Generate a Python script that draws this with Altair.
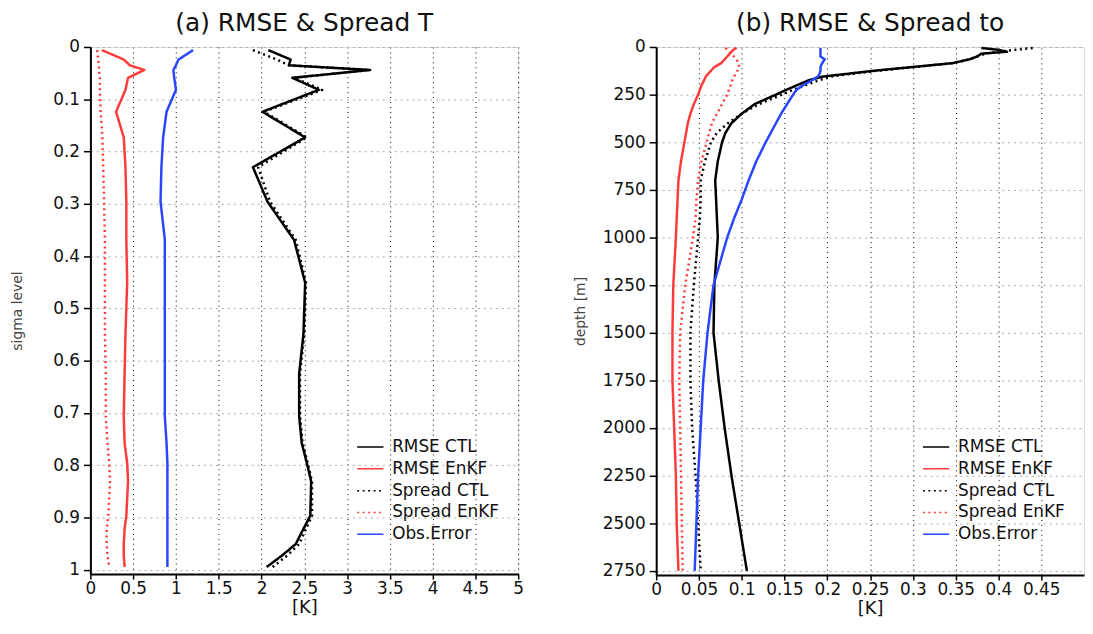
import altair as alt
import pandas as pd

FONT = "DejaVu Sans"

SERIES = ["RMSE CTL", "RMSE EnKF", "Spread CTL", "Spread EnKF", "Obs.Error"]
COLORS = ["#000000", "#ff3c3c", "#000000", "#ff3c3c", "#2846ff"]
DASHES = [[1, 0], [1, 0], [2, 3.5], [2, 3.5], [1, 0]]

# ---- panel (a): sigma levels ----
SIGMA = [0.006, 0.024, 0.035, 0.044, 0.059, 0.082, 0.124, 0.173, 0.23, 0.296, 0.369,
         0.451, 0.549, 0.625, 0.707, 0.758, 0.796, 0.831, 0.897, 0.922, 0.951, 0.973, 0.995]
A_RMSE_CTL = [2.08, 2.34, 2.32, 3.27, 2.36, 2.67, 2.01, 2.51, 1.90, 2.07, 2.38,
              2.51, 2.49, 2.44, 2.44, 2.47, 2.53, 2.58, 2.57, 2.49, 2.40, 2.24, 2.06]
A_RMSE_ENKF = [0.135, 0.39, 0.46, 0.63, 0.44, 0.41, 0.30, 0.39, 0.41, 0.42, 0.42,
               0.43, 0.41, 0.40, 0.39, 0.40, 0.43, 0.44, 0.42, 0.40, 0.39, 0.39, 0.40]
A_SPREAD_CTL = [1.90, 2.18, 2.32, 3.25, 2.38, 2.71, 2.03, 2.53, 1.96, 2.10, 2.40,
                2.52, 2.50, 2.45, 2.45, 2.48, 2.54, 2.59, 2.59, 2.52, 2.44, 2.30, 2.13]
A_SPREAD_ENKF = [0.08, 0.09, 0.10, 0.10, 0.11, 0.11, 0.12, 0.14, 0.15, 0.16, 0.17,
                 0.17, 0.17, 0.18, 0.18, 0.20, 0.22, 0.23, 0.21, 0.19, 0.19, 0.20, 0.22]
A_OBS_ERR = [1.20, 1.03, 1.00, 0.97, 0.98, 1.00, 0.89, 0.85, 0.83, 0.82, 0.87,
             0.87, 0.87, 0.87, 0.87, 0.89, 0.90, 0.90, 0.90, 0.90, 0.90, 0.90, 0.90]

# ---- panel (b): depth [m] ----
DEPTH = [5, 15, 25, 35, 50, 65, 85, 105, 125, 140, 155, 175, 200, 225, 250, 300,
         350, 400, 450, 500, 600, 700, 800, 900, 1000, 1250, 1500, 1750, 2000, 2250, 2500, 2750]
B_RMSE_CTL = [0.38, 0.40, 0.41, 0.38, 0.375, 0.366, 0.346, 0.30, 0.254, 0.225, 0.195, 0.178,
              0.165, 0.152, 0.14, 0.115, 0.10, 0.088, 0.081, 0.077, 0.072, 0.069, 0.070, 0.071,
              0.072, 0.068, 0.067, 0.073, 0.080, 0.088, 0.097, 0.106]
B_RMSE_ENKF = [0.094, 0.090, 0.088, 0.086, 0.083, 0.080, 0.076, 0.068, 0.064, 0.061, 0.058, 0.056,
               0.053, 0.051, 0.049, 0.044, 0.040, 0.037, 0.035, 0.033, 0.029, 0.026, 0.025, 0.024,
               0.023, 0.020, 0.019, 0.019, 0.021, 0.023, 0.024, 0.026]
B_SPREAD_CTL = [0.44, 0.42, 0.40, 0.385, 0.375, 0.366, 0.346, 0.302, 0.258, 0.23, 0.205, 0.19,
                0.175, 0.16, 0.147, 0.12, 0.10, 0.084, 0.071, 0.064, 0.057, 0.052, 0.052, 0.051,
                0.049, 0.044, 0.040, 0.040, 0.042, 0.046, 0.049, 0.052]
B_SPREAD_ENKF = [0.081, 0.083, 0.085, 0.088, 0.091, 0.094, 0.096, 0.097, 0.095, 0.093, 0.091, 0.089,
                 0.087, 0.085, 0.083, 0.077, 0.071, 0.065, 0.062, 0.059, 0.053, 0.049, 0.047, 0.046,
                 0.043, 0.034, 0.028, 0.027, 0.028, 0.029, 0.030, 0.031]
B_OBS_ERR = [0.192, 0.192, 0.192, 0.192, 0.192, 0.197, 0.194, 0.192, 0.192, 0.191, 0.189, 0.182,
             0.172, 0.164, 0.160, 0.153, 0.146, 0.140, 0.134, 0.128, 0.117, 0.108, 0.100, 0.091,
             0.083, 0.067, 0.060, 0.055, 0.052, 0.049, 0.047, 0.045]

A_X_TICKS = [0, 0.5, 1, 1.5, 2, 2.5, 3, 3.5, 4, 4.5, 5]
A_Y_TICKS = [0, 0.1, 0.2, 0.3, 0.4, 0.5, 0.6, 0.7, 0.8, 0.9, 1]
B_X_TICKS = [0, 0.05, 0.1, 0.15, 0.2, 0.25, 0.3, 0.35, 0.4, 0.45]
B_Y_TICKS = [0, 250, 500, 750, 1000, 1250, 1500, 1750, 2000, 2250, 2500, 2750]


def long_table(levels, cols):
    rows = []
    for name, vals in zip(SERIES, cols):
        for lv, v in zip(levels, vals):
            rows.append({"level": lv, "value": v, "series": name})
    return pd.DataFrame(rows)


def panel(df, title, xdom, xticks, xfmt, ydom, yticks, yfmt, ytitle, ytitlepad, w, h):
    legend = alt.Legend(title=None, orient="none", legendX=268, legendY=389,
                        symbolType="stroke", symbolSize=700, symbolStrokeWidth=1.5,
                        labelFontSize=17, labelFont=FONT, labelColor="#111",
                        rowPadding=-6, labelOffset=8, padding=0)
    return alt.Chart(df, title=alt.Title(title, fontSize=25, font=FONT, fontWeight="normal",
                                         frame="group", offset=2, color="#111")).mark_line(
        strokeWidth=2.5, strokeJoin="round"
    ).encode(
        x=alt.X("value:Q",
                scale=alt.Scale(domain=xdom, nice=False, zero=False),
                axis=alt.Axis(values=xticks, format=xfmt, title="[K]", titleFontSize=18,
                              titleFont=FONT, titleFontWeight="normal", titlePadding=2,
                              titleColor="#111",
                              labelFontSize=17, labelFont=FONT, labelColor="#111",
                              labelPadding=2, tickSize=5, tickWidth=1.5, tickColor="black",
                              domainColor="black", domainWidth=2,
                              grid=True, gridColor="black", gridDash=[1, 4], gridWidth=1,
                              labelOverlap=False, labelFlush=False)),
        y=alt.Y("level:Q",
                scale=alt.Scale(domain=ydom, reverse=True, nice=False, zero=False),
                axis=alt.Axis(values=yticks, format=yfmt, title=ytitle, titleFontSize=14,
                              titleFont=FONT, titleFontWeight="normal", titleColor="#444",
                              titlePadding=ytitlepad,
                              labelFontSize=17, labelFont=FONT, labelColor="#111",
                              labelPadding=4, tickSize=7, tickWidth=1.5, tickColor="black",
                              domainColor="black", domainWidth=2,
                              grid=True, gridColor="#aaaaaa", gridDash=[2, 4], gridWidth=1,
                              labelOverlap=False, labelFlush=False)),
        order=alt.Order("level:Q"),
        color=alt.Color("series:N", scale=alt.Scale(domain=SERIES, range=COLORS), legend=legend),
        strokeDash=alt.StrokeDash("series:N", scale=alt.Scale(domain=SERIES, range=DASHES),
                                  legend=legend),
    ).properties(width=w, height=h)


df_a = long_table(SIGMA, [A_RMSE_CTL, A_RMSE_ENKF, A_SPREAD_CTL, A_SPREAD_ENKF, A_OBS_ERR])
df_b = long_table(DEPTH, [B_RMSE_CTL, B_RMSE_ENKF, B_SPREAD_CTL, B_SPREAD_ENKF, B_OBS_ERR])

pa = panel(df_a, "(a) RMSE & Spread T", [0, 5], A_X_TICKS, "~g",
           [0, 1.0085], A_Y_TICKS, "~g", "sigma level", 28, 431, 531)
pb = panel(df_b, "(b) RMSE & Spread to", [0, 0.5], B_X_TICKS, "~g",
           [0, 2772], B_Y_TICKS, "d", "depth [m]", 15, 431, 532)

chart = alt.hconcat(pa, pb, spacing=49).resolve_scale(
    color="independent", strokeDash="independent"
).properties(
    padding={"left": 2, "top": 0, "right": 0, "bottom": 0}
).configure_view(
    stroke="black", strokeWidth=2
).configure(background="white")

chart.save("out.html", embed_options={"renderer": "svg", "actions": False})
